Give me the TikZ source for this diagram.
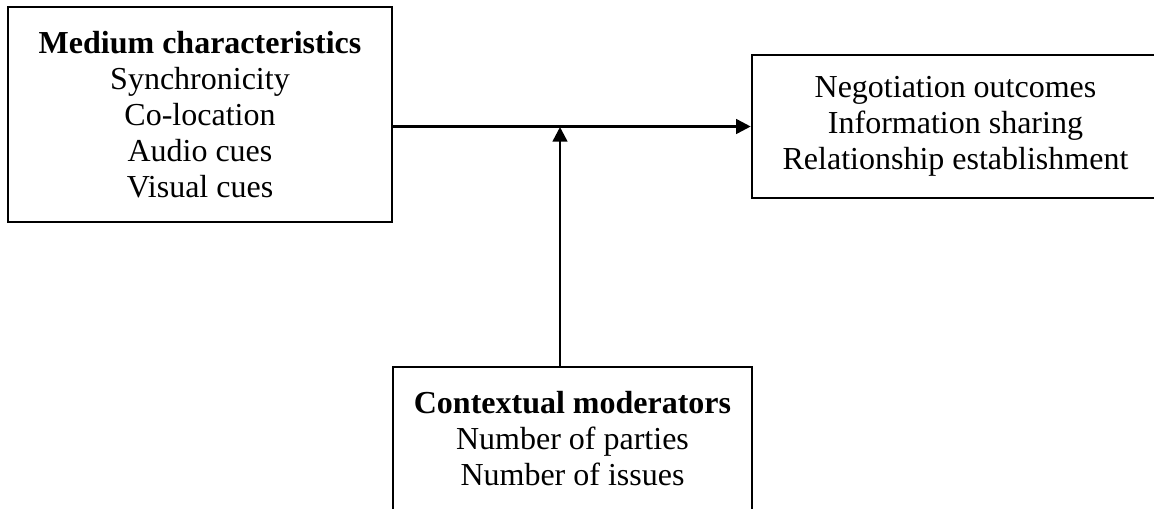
\documentclass[tikz,border=0pt]{standalone}
\usepackage{fontspec}
\setmainfont{Liberation Serif}
\usepackage{tikz}
\usetikzlibrary{arrows.meta, positioning, calc}

\tikzset{
  factorbox/.style={draw=black, line width=1.9pt, align=center, inner sep=0pt,
    font=\fontsize{24pt}{27pt}\selectfont},
  linkarrow/.style={line width=1.9pt, -{Triangle[length=11pt, width=11pt]}}
}

\begin{document}
\begin{tikzpicture}[x=0.75pt, y=-0.75pt]
  \useasboundingbox (0,0) rectangle (1154,508);

  \node[factorbox, minimum width=288pt, minimum height=161.25pt] (medium) at (200,114.5) {
    \textbf{Medium characteristics}\\
    Synchronicity\\
    Co-location\\
    Audio cues\\
    Visual cues
  };

  \node[factorbox, minimum width=305.25pt, minimum height=107.25pt] (outcomes) at (955.5,126.5) {
    Negotiation outcomes\\
    Information sharing\\
    Relationship establishment
  };

  \node[factorbox, minimum width=269.25pt, minimum height=107.25pt] (moderators) at (572.5,438.5) {
    \textbf{Contextual moderators}\\
    Number of parties\\
    Number of issues
  };

  \coordinate (join) at (560,127);

  \draw[linkarrow] (outcomes.west -| medium.east) -- (outcomes.west);
  \draw[linkarrow] (moderators.north -| join) -- (join);
\end{tikzpicture}
\end{document}
